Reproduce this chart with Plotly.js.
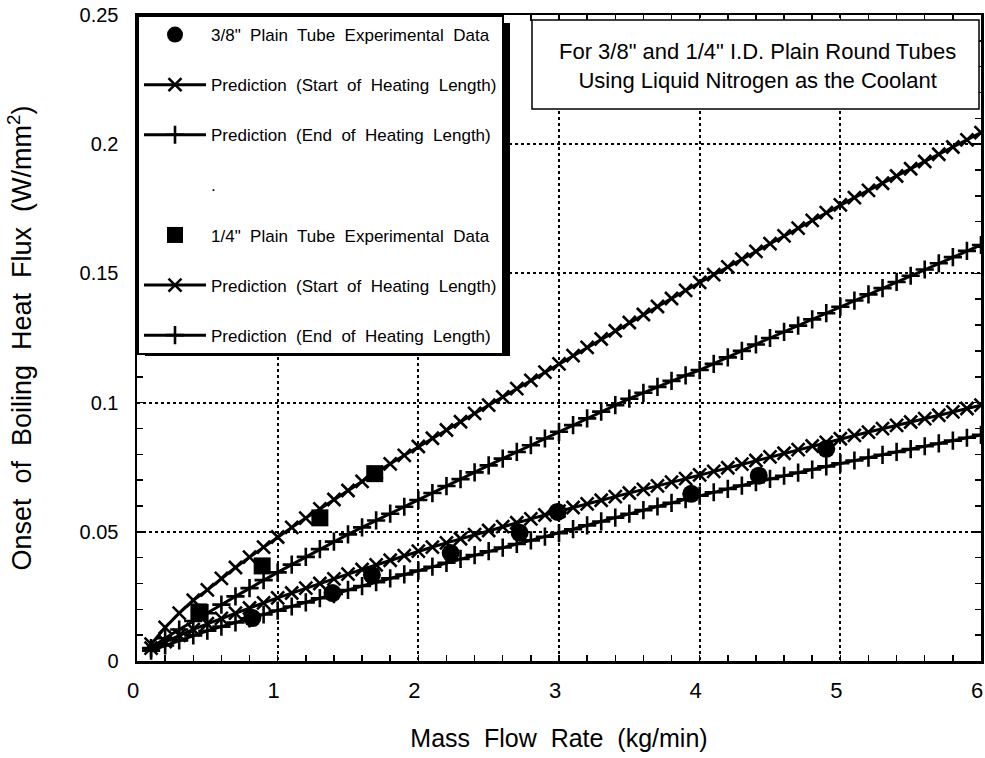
<!DOCTYPE html>
<html>
<head>
<meta charset="utf-8">
<script src="https://cdn.plot.ly/plotly-3.0.1.min.js"></script>
<style>
html,body{margin:0;padding:0;background:#fff;}
#chart{width:985px;height:758px;}
</style>
</head>
<body>
<div id="chart"></div>
<script>
// ---- data ----
var massFlowPred = [0.1,0.2,0.3,0.4,0.5,0.6,0.7,0.8,0.9,1.0,
  1.1,1.2,1.3,1.4,1.5,1.6,1.7,1.8,1.9,2.0,
  2.1,2.2,2.3,2.4,2.5,2.6,2.7,2.8,2.9,3.0,
  3.1,3.2,3.3,3.4,3.5,3.6,3.7,3.8,3.9,4.0,
  4.1,4.2,4.3,4.4,4.5,4.6,4.7,4.8,4.9,5.0,
  5.1,5.2,5.3,5.4,5.5,5.6,5.7,5.8,5.9,6.0];

// 3/8" tube
var tube38Flow = [0.82,1.39,1.67,2.23,2.72,2.99,3.94,4.42,4.90];
var tube38Flux = [0.0166,0.0263,0.0333,0.0418,0.0496,0.0577,0.0647,0.0717,0.0821];
var tube38Start = [0.0050,0.0075,0.0099,0.0122,0.0144,0.0165,0.0185,0.0205,0.0225,0.0244,
  0.0263,0.0282,0.0300,0.0318,0.0336,0.0354,0.0372,0.0390,0.0408,0.0425,
  0.0441,0.0457,0.0473,0.0489,0.0505,0.0520,0.0535,0.0550,0.0565,0.0580,
  0.0594,0.0608,0.0622,0.0636,0.0650,0.0664,0.0678,0.0692,0.0706,0.0720,
  0.0734,0.0748,0.0762,0.0776,0.0790,0.0804,0.0818,0.0832,0.0846,0.0860,
  0.0873,0.0886,0.0899,0.0912,0.0925,0.0938,0.0951,0.0964,0.0977,0.0990];
var tube38End = [0.0040,0.0060,0.0080,0.0099,0.0117,0.0133,0.0149,0.0165,0.0180,0.0195,
  0.0211,0.0227,0.0243,0.0259,0.0275,0.0290,0.0305,0.0320,0.0335,0.0350,
  0.0365,0.0380,0.0395,0.0410,0.0425,0.0439,0.0453,0.0467,0.0481,0.0495,
  0.0510,0.0525,0.0540,0.0555,0.0570,0.0584,0.0598,0.0612,0.0626,0.0640,
  0.0653,0.0666,0.0679,0.0692,0.0705,0.0717,0.0729,0.0741,0.0753,0.0765,
  0.0776,0.0787,0.0798,0.0809,0.0820,0.0831,0.0842,0.0853,0.0864,0.0875];

// 1/4" tube
var tube14Flow = [0.44,0.89,1.30,1.69];
var tube14Flux = [0.0190,0.0368,0.0554,0.0725];
var tube14Start = [0.0065,0.0130,0.0185,0.0235,0.0275,0.0320,0.0362,0.0402,0.0441,0.0480,
  0.0517,0.0553,0.0589,0.0625,0.0660,0.0695,0.0730,0.0763,0.0796,0.0830,
  0.0862,0.0894,0.0926,0.0958,0.0990,0.1022,0.1054,0.1086,0.1118,0.1150,
  0.1182,0.1214,0.1246,0.1278,0.1310,0.1341,0.1372,0.1403,0.1434,0.1465,
  0.1495,0.1525,0.1555,0.1585,0.1615,0.1645,0.1675,0.1705,0.1735,0.1765,
  0.1793,0.1821,0.1849,0.1877,0.1905,0.1933,0.1961,0.1989,0.2017,0.2045];
var tube14End = [0.0050,0.0088,0.0122,0.0155,0.0185,0.0218,0.0250,0.0282,0.0313,0.0343,
  0.0373,0.0403,0.0433,0.0462,0.0490,0.0517,0.0544,0.0570,0.0597,0.0623,
  0.0650,0.0677,0.0704,0.0730,0.0757,0.0783,0.0809,0.0835,0.0861,0.0887,
  0.0913,0.0939,0.0965,0.0990,0.1015,0.1038,0.1061,0.1084,0.1105,0.1126,
  0.1150,0.1175,0.1200,0.1225,0.1250,0.1274,0.1298,0.1322,0.1346,0.1371,
  0.1395,0.1419,0.1443,0.1467,0.1491,0.1515,0.1539,0.1563,0.1587,0.1610];

var legendNames = ['3/8"  Plain  Tube  Experimental  Data',
  'Prediction  (Start  of  Heating  Length)',
  'Prediction  (End  of  Heating  Length)',
  '.',
  '1/4"  Plain  Tube  Experimental  Data',
  'Prediction  (Start  of  Heating  Length)',
  'Prediction  (End  of  Heating  Length)'];

var noteLines = ['For 3/8" and 1/4" I.D. Plain Round Tubes', 'Using Liquid Nitrogen as the Coolant'];

// ---- styling ----
var K = '#000';
var FONT = 'Liberation Sans, Arial, Helvetica, sans-serif';
function dataTrace(x, y, name, symbol, size, grp) {
  return {x: x, y: y, name: name, type: 'scatter', mode: 'markers', legendgroup: grp,
    marker: {symbol: symbol, size: size, color: K}, cliponaxis: false};
}
function predTrace(y, name, symbol, size, grp) {
  return {x: massFlowPred, y: y, name: name, type: 'scatter', mode: 'lines+markers', legendgroup: grp,
    line: {color: K, width: 3},
    marker: {symbol: symbol, size: size, color: K, line: {color: K, width: 2.6}}};
}

var traces = [
  dataTrace(tube38Flow, tube38Flux, legendNames[0], 'circle', 18, 'g1'),
  predTrace(tube38Start, legendNames[1], 'x-thin', 13, 'g2'),
  predTrace(tube38End, legendNames[2], 'cross-thin', 13, 'g3'),
  {x: [-1], y: [-1], name: legendNames[3], type: 'scatter', mode: 'markers', legendgroup: 'g4',
    marker: {symbol: 'circle', size: 0.1, color: '#fff'}},
  dataTrace(tube14Flow, tube14Flux, legendNames[4], 'square', 17, 'g5'),
  predTrace(tube14Start, legendNames[5], 'x-thin', 13, 'g6'),
  predTrace(tube14End, legendNames[6], 'cross-thin', 13, 'g7')
];

var L = 137, R = 981, T = 15, B = 661, W = 985, H = 758;
function px(xp) { return (xp - L) / (R - L); }
function py(yp) { return (B - yp) / (B - T); }

var layout = {
  width: W, height: H,
  margin: {l: L, r: W - R, t: T, b: H - B},
  paper_bgcolor: '#fff', plot_bgcolor: '#fff',
  font: {family: FONT, color: K},
  showlegend: true,
  xaxis: {
    range: [0, 6], dtick: 1, tick0: 0,
    showline: true, linecolor: K, linewidth: 2.5, mirror: 'allticks',
    ticks: 'inside', ticklen: 6, tickwidth: 1.5, tickcolor: K,
    showgrid: true, gridcolor: K, gridwidth: 1.8, griddash: 'dot',
    zeroline: false,
    minor: {dtick: 0.2, ticks: 'inside', ticklen: 6, tickwidth: 1.5, tickcolor: K, showgrid: false},
    tickfont: {family: FONT, size: 22, color: K},
    ticklabelstandoff: 8,
    ticklabelshift: -4,
    ticklabeloverflow: 'allow',
    title: {text: 'Mass  Flow  Rate  (kg/min)', font: {family: FONT, size: 25, color: K}, standoff: 28}
  },
  yaxis: {
    range: [0, 0.25], dtick: 0.05, tick0: 0,
    showline: true, linecolor: K, linewidth: 2.5, mirror: 'allticks',
    ticks: 'inside', ticklen: 7, tickwidth: 1.5, tickcolor: K,
    showgrid: true, gridcolor: K, gridwidth: 1.8, griddash: 'dot',
    zeroline: false,
    minor: {dtick: 0.01, ticks: 'inside', ticklen: 6, tickwidth: 1.5, tickcolor: K, showgrid: false},
    tickfont: {family: FONT, size: 20, color: K},
    ticklabelstandoff: 12,
    ticklabeloverflow: 'allow',
    title: {text: 'Onset  of  Boiling  Heat  Flux  (W/mm<sup>2</sup>)', font: {family: FONT, size: 27, color: K}, standoff: 40}
  },
  legend: {
    x: 0, y: 1, xanchor: 'left', yanchor: 'top', xref: 'paper', yref: 'paper',
    bgcolor: '#fff', bordercolor: K, borderwidth: 2,
    font: {family: FONT, size: 17, color: K},
    traceorder: 'grouped', tracegroupgap: 25, itemwidth: 62,
    itemclick: false
  },
  shapes: [
    // legend drop shadow
    {type: 'rect', xref: 'paper', yref: 'paper', layer: 'above',
      x0: px(L + 8), x1: px(510), y0: py(356), y1: py(T + 8),
      fillcolor: K, line: {width: 0}},
    // note box
    {type: 'rect', xref: 'paper', yref: 'paper', layer: 'above',
      x0: px(532), x1: px(979), y0: py(109), y1: py(20),
      fillcolor: '#fff', line: {color: K, width: 1.5}}
  ],
  annotations: [
    {xref: 'paper', yref: 'paper', x: px(757), y: py(66), xanchor: 'center', yanchor: 'middle',
      text: noteLines.join('<br>'), showarrow: false, align: 'center',
      font: {family: FONT, size: 22, color: K}}
  ]
};

Plotly.newPlot('chart', traces, layout, {displayModeBar: false, staticPlot: true});
</script>
</body>
</html>
